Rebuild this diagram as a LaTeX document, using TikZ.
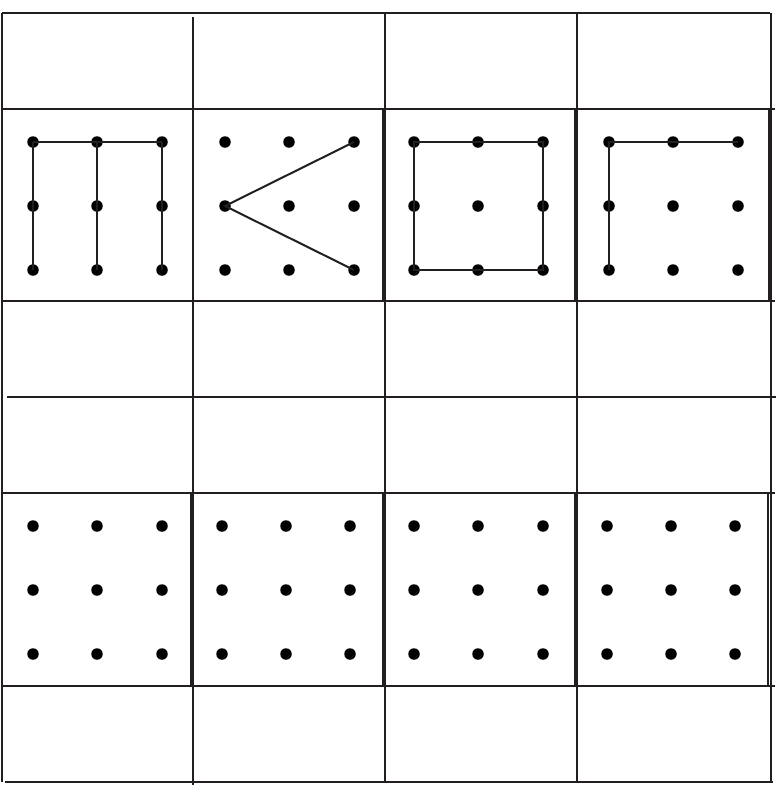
\documentclass[tikz,border=0pt]{standalone}
\begin{document}
\begin{tikzpicture}[x=1pt,y=-1pt,
  gridline/.style={draw=ink,line width=2.4pt},
  panel/.style={draw=ink,line width=2pt},
  dot/.style={circle,fill=black,inner sep=0pt,minimum size=11.5pt},
  link/.style={draw=ink,line width=2pt}]
\definecolor{ink}{HTML}{231F20}
\useasboundingbox (0,0) rectangle (778,793);
% horizontal grid lines
\draw[gridline] (2,13) -- (770,13);
\draw[gridline] (2,109) -- (775,109);
\draw[gridline] (2,301) -- (775,301);
\draw[gridline] (7,397) -- (776,397);
\draw[gridline] (2,493) -- (775,493);
\draw[gridline] (2,686) -- (775,686);
\draw[gridline] (5,782) -- (773,782);
% vertical grid lines
\draw[gridline] (2,13) -- (2,782);
\draw[gridline] (193,17) -- (193,785);
\draw[gridline] (385,13) -- (385,782);
\draw[gridline] (577,13) -- (577,782);
\draw[gridline] (771,13) -- (771,782);
% inner panel edges
\draw[panel] (382.5,109) -- (382.5,301);
\draw[panel] (574.5,109) -- (574.5,301);
\draw[panel] (768.5,109) -- (768.5,301);
\draw[panel] (190.5,493) -- (190.5,686);
\draw[panel] (382.5,493) -- (382.5,686);
\draw[panel] (574.5,493) -- (574.5,686);
\draw[panel] (767.5,493) -- (767.5,686);
% dots, row 2
\foreach \p/\xa/\xb/\xc in {1/33/97/162, 2/225/289/354, 3/414/478/543, 4/609/673/738}{
  \foreach \r/\yy in {1/142, 2/206, 3/270}{
    \node[dot] (a\p-\r-1) at (\xa,\yy) {};
    \node[dot] (a\p-\r-2) at (\xb,\yy) {};
    \node[dot] (a\p-\r-3) at (\xc,\yy) {};
  }
}
% dots, row 4
\foreach \p/\xa/\xb/\xc in {1/33/97/162, 2/222/286/350, 3/414/478/543, 4/607/671/735}{
  \foreach \r/\yy in {1/526, 2/590, 3/654}{
    \node[dot] (b\p-\r-1) at (\xa,\yy) {};
    \node[dot] (b\p-\r-2) at (\xb,\yy) {};
    \node[dot] (b\p-\r-3) at (\xc,\yy) {};
  }
}
% figures in row 2
\draw[link] (a1-1-1.center) -- (a1-1-3.center);
\draw[link] (a1-1-1.center) -- (a1-3-1.center);
\draw[link] (a1-1-2.center) -- (a1-3-2.center);
\draw[link] (a1-1-3.center) -- (a1-3-3.center);
\draw[link] (a2-1-3.center) -- (a2-2-1.center) -- (a2-3-3.center);
\draw[link] (a3-1-1.center) -- (a3-1-3.center) -- (a3-3-3.center) -- (a3-3-1.center) -- cycle;
\draw[link] (a4-3-1.center) -- (a4-1-1.center) -- (a4-1-3.center);
\end{tikzpicture}
\end{document}
